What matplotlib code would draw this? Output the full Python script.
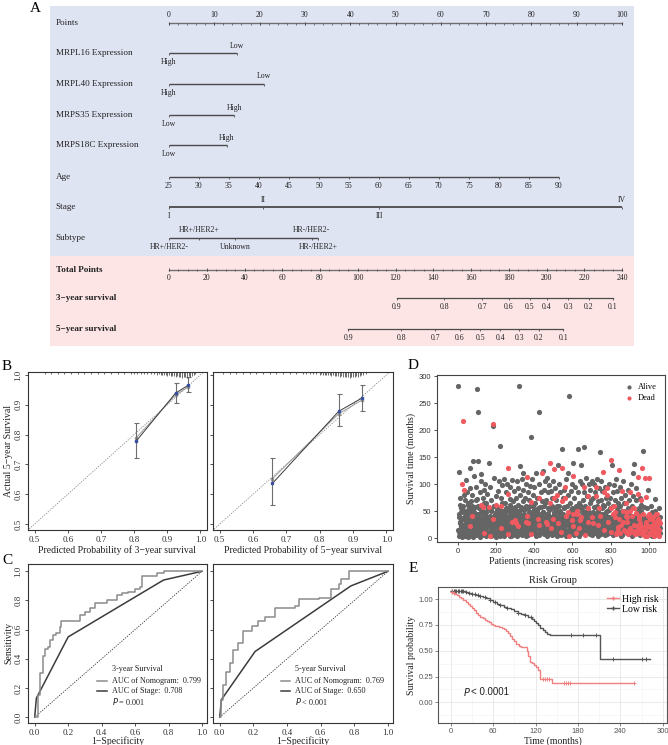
import matplotlib
matplotlib.use("Agg")
import matplotlib.pyplot as plt
import numpy as np
from matplotlib.transforms import blended_transform_factory as btf
from matplotlib.lines import Line2D

W, H = 668, 745
SERIF = ['Liberation Serif', 'DejaVu Serif']
SANS = ['Liberation Sans', 'DejaVu Sans']
plt.rcParams['font.family'] = SERIF

# ---------------- data: nomogram ----------------
points_labels = [0, 10, 20, 30, 40, 50, 60, 70, 80, 90, 100]
mrpl16_levels = ['High', 'Low'];   mrpl16_pts = [0, 15.0]
mrpl40_levels = ['High', 'Low'];   mrpl40_pts = [0, 21.0]
mrps35_levels = ['Low', 'High'];   mrps35_pts = [0, 14.4]
mrps18c_levels = ['Low', 'High'];  mrps18c_pts = [0, 12.7]
age_values = [25, 30, 35, 40, 45, 50, 55, 60, 65, 70, 75, 80, 85, 90]
age_pts = [0, 6.6, 13.2, 19.8, 26.5, 33.1, 39.7, 46.3, 52.9, 59.5, 66.2, 72.8, 79.4, 86.0]
stage_levels = ['I', 'II', 'III', 'IV'];  stage_pts = [0, 20.8, 46.4, 100]
subtype_levels = ['HR+/HER2-', 'HR+/HER2+', 'Unknown', 'HR-/HER2-', 'HR-/HER2+']
subtype_pts = [0, 6.7, 14.5, 31.5, 33.0]
total_labels = [0, 20, 40, 60, 80, 100, 120, 140, 160, 180, 200, 220, 240]
surv_probs = ['0.9', '0.8', '0.7', '0.6', '0.5', '0.4', '0.3', '0.2', '0.1']
surv3_total = [120.8, 145.8, 166, 180, 191, 200, 211.6, 222.5, 235]
surv5_total = [95, 123, 141, 154, 165, 175.4, 185.5, 196, 209]

# ---------------- data: calibration ----------------
cal3_pred = [0.807, 0.925, 0.964]
cal3_obs = [0.779, 0.939, 0.966]
cal3_lo = [0.723, 0.905, 0.943]
cal3_hi = [0.840, 0.972, 0.992]
cal3_corr = [0.790, 0.933, 0.960]
cal5_pred = [0.658, 0.857, 0.926]
cal5_obs = [0.636, 0.878, 0.922]
cal5_lo = [0.564, 0.830, 0.878]
cal5_hi = [0.722, 0.936, 0.966]
cal5_corr = [0.652, 0.870, 0.915]
rug3_x = [0.53, 0.55, 0.57, 0.59, 0.61, 0.63, 0.65, 0.67, 0.69, 0.71,
          0.73, 0.75, 0.77, 0.79, 0.80, 0.81, 0.82, 0.83, 0.84, 0.85,
          0.86, 0.87, 0.875, 0.88, 0.885, 0.89, 0.895, 0.90, 0.905, 0.91,
          0.915, 0.92, 0.925, 0.93, 0.935, 0.94, 0.945, 0.95, 0.955, 0.96,
          0.965, 0.97, 0.975, 0.98, 0.985]
rug3_n = [1, 1, 1, 1, 1, 1, 1, 1, 1, 1,
          1, 1, 1, 2, 1, 2, 1, 2, 2, 2,
          2, 3, 2, 3, 3, 4, 3, 5, 4, 5,
          6, 5, 7, 6, 8, 7, 9, 8, 7, 9,
          6, 7, 5, 4, 2]
rug5_x = [0.51, 0.53, 0.55, 0.57, 0.59, 0.61, 0.63, 0.65, 0.67, 0.69,
          0.71, 0.73, 0.75, 0.76, 0.77, 0.78, 0.79, 0.80, 0.805, 0.81,
          0.815, 0.82, 0.825, 0.83, 0.835, 0.84, 0.845, 0.85, 0.855, 0.86,
          0.865, 0.87, 0.875, 0.88, 0.885, 0.89, 0.895, 0.90, 0.905, 0.91,
          0.915, 0.92, 0.925, 0.93, 0.94]
rug5_n = [1, 1, 1, 1, 1, 1, 1, 1, 1, 1,
          1, 1, 2, 1, 2, 2, 2, 3, 2, 3,
          3, 4, 3, 4, 5, 4, 5, 6, 5, 7,
          6, 7, 8, 7, 8, 9, 8, 7, 8, 6,
          7, 5, 4, 3, 2]

# ---------------- data: ROC ----------------
roc3_nomo_fpr = [0, 0.02, 0.03, 0.05, 0.06, 0.08, 0.09, 0.11, 0.13, 0.15, 0.16, 0.20, 0.25, 0.27, 0.30,
                 0.33, 0.36, 0.40, 0.43, 0.47, 0.49, 0.52, 0.56, 0.60, 0.63, 0.64, 0.70, 0.73, 0.77, 1.0]
roc3_nomo_tpr = [0, 0.15, 0.30, 0.42, 0.47, 0.48, 0.53, 0.56, 0.58, 0.62, 0.66, 0.66, 0.66, 0.70, 0.72,
                 0.75, 0.78, 0.78, 0.80, 0.80, 0.84, 0.85, 0.86, 0.88, 0.89, 0.97, 0.97, 0.99, 1.0, 1.0]
roc3_stage_fpr = [0, 0.01, 0.20, 0.77, 1.0]
roc3_stage_tpr = [0, 0.13, 0.55, 0.94, 1.0]
roc5_nomo_fpr = [0, 0.01, 0.02, 0.036, 0.06, 0.08, 0.11, 0.14, 0.19, 0.23, 0.27, 0.33, 0.45, 0.47,
                 0.59, 0.66, 0.71, 0.72, 0.77, 1.0]
roc5_nomo_tpr = [0, 0.12, 0.22, 0.31, 0.37, 0.46, 0.51, 0.59, 0.625, 0.66, 0.69, 0.75, 0.76, 0.81,
                 0.82, 0.88, 0.91, 0.95, 1.0, 1.0]
roc5_stage_fpr = [0, 0.01, 0.21, 0.78, 1.0]
roc5_stage_tpr = [0, 0.12, 0.45, 0.90, 1.0]

# ---------------- data: risk score scatter ----------------
# odd-ranked patients
surv_time_odd = [
    282, 122, 45, 12, 30, 75, 8, 55, 20, 38,
    100, 25, 217, 60, 90, 15, 48, 5, 33, 70,
    108, 40, 18, 85, 27, 52, 3, 62, 35, 10,
    130, 93, 22, 45, 68, 14, 36, 80, 28, 50,
    143, 115, 40, 8, 58, 25, 95, 33, 18, 72,
    276, 233, 142, 60, 20, 45, 85, 30, 12, 105,
    118, 62, 38, 25, 57, 10, 75, 44, 90, 15,
    100, 35, 22, 65, 48, 8, 82, 28, 40, 55,
    140, 57, 30, 95, 18, 50, 70, 5, 38, 25,
    207, 35, 212, 60, 20, 112, 45, 8, 78, 30,
    62, 40, 25, 48, 88, 12, 55, 33, 105, 18,
    170, 60, 30, 75, 15, 50, 98, 22, 40, 8,
    110, 45, 28, 65, 12, 85, 38, 55, 20, 100,
    130, 82, 35, 50, 18, 72, 25, 95, 42, 5,
    30, 108, 55, 22, 68, 40, 12, 88, 28, 47,
    33, 28, 75, 105, 50, 18, 62, 38, 92, 10,
    281, 133, 45, 80, 25, 58, 15, 110, 35, 68,
    90, 120, 52, 30, 75, 8, 42, 100, 20, 60,
    113, 42, 28, 85, 55, 15, 70, 35, 97, 48,
    188, 67, 40, 110, 22, 60, 10, 80, 33, 52,
    95, 30, 65, 18, 120, 45, 8, 75, 38, 55,
    35, 75, 234, 100, 25, 58, 12, 85, 42, 68,
    120, 125, 48, 20, 90, 60, 30, 105, 15, 40,
    30, 70, 45, 112, 18, 55, 85, 25, 98, 38,
    140, 65, 18, 88, 40, 60, 10, 75, 30, 105,
    75, 128, 45, 20, 92, 55, 35, 70, 12, 50,
    80, 136, 25, 60, 40, 100, 15, 85, 48, 30,
    12, 130, 68, 166, 35, 75, 22, 55, 90, 42,
    95, 75, 42, 110, 28, 60, 8, 80, 38, 120,
    5, 263, 22, 65, 45, 88, 15, 100, 30, 55,
    22, 115, 140, 48, 75, 25, 95, 38, 10, 60,
    10, 50, 45, 165, 30, 85, 18, 65, 105, 40,
    33, 40, 135, 55, 20, 100, 70, 12, 45, 85,
    168, 95, 28, 60, 15, 112, 40, 78, 50, 25,
    78, 55, 100, 35, 18, 65, 90, 42, 8, 70,
    40, 105, 30, 75, 48, 15, 100, 58, 35, 85,
    95, 78, 45, 110, 25, 60, 12, 68, 38, 92,
    55, 160, 30, 70, 15, 105, 45, 88, 20, 62,
    122, 85, 35, 60, 18, 95, 42, 75, 10, 50,
    92, 80, 28, 65, 100, 40, 12, 55, 30, 75,
    145, 55, 135, 40, 18, 85, 60, 25, 98, 45,
    48, 40, 70, 30, 110, 15, 55, 88, 22, 65,
    20, 127, 35, 60, 8, 95, 42, 75, 28, 50,
    88, 50, 18, 105, 38, 65, 12, 80, 45, 25,
    12, 65, 48, 30, 90, 55, 20, 70, 40, 8,
    85, 50, 25, 100, 35, 60, 15, 78, 42, 120,
    55, 25, 137, 40, 10, 70, 30, 92, 48, 18,
    114, 82, 15, 35, 55, 8, 45, 75, 25, 62,
    70, 130, 20, 10, 162, 40, 28, 58, 12, 35,
    112, 77, 25, 30, 5, 55, 18, 42, 90, 15,
    112, 45, 35, 20, 10, 60, 28, 48, 8, 38,
    40, 25, 15, 5, 30, 50, 18, 72, 35, 12,
    45, 30, 20, 8, 35, 15, 25, 55, 40, 10,
]
status_odd = ("AAAAAAAAAA" "DADADAAAAA" "AAAAAAAAAA" "AADAAAAAAA" "AAAAAAAAAA"
              "AAAAAAAAAA" "ADAADAAAAA" "AAAAAAAAAA" "ADAAAAAAAA" "ADDAAAAAAA"
              "DAAAAAAAAA" "ADAAAAAAAA" "AAAAAAAAAA" "DDAAAAAAAA" "DAAAAAAAAA"
              "DDAAAAAAAA" "AAAAAAAAAA" "AAAAAAAAAA" "DDDAAAAAAA" "ADAAAAAAAA"
              "AAAAAAAAAA" "DDAAAAAAAA" "DAAAAAAAAA" "DAAAAAAAAA" "DDDAAAAAAA"
              "DDAAAAAAAA" "DAAAAAAAAA" "DDDAAAAAAA" "DDDAAAAAAA" "DAAAAAAAAA"
              "DDAAAAAAAA" "DDDAAAAAAA" "DDAAAAAAAA" "ADAAAAAAAA" "DDAAAAAAAA"
              "DAAAAAAAAA" "DDAAAAAAAA" "DAAAAAAAAA" "DDAAAAAAAA" "DDAAAAAAAA"
              "DDAAAAAAAA" "DDAAAAAAAA" "DDAAAAAAAA" "DDAAAAAAAA" "DDDDAAAAAA"
              "DDAAAAAAAA" "DDAAAAAAAA" "DDDDAAAAAA" "DDDDAAAAAA" "DDDDDAAAAA"
              "DDDDDAAAAA" "DDDDDAAAAA" "DDDDDDAAAA")
# even-ranked patients
surv_time_even = [
    15, 40, 5, 28, 62, 10, 33, 22, 48, 3,
    18, 52, 8, 35, 12, 80, 25, 42, 6, 30,
    20, 9, 45, 30, 15, 65, 38, 4, 25, 55,
    12, 35, 50, 7, 28, 18, 42, 60, 22, 3,
    30, 10, 48, 20, 38, 6, 70, 15, 26, 44,
    8, 32, 18, 55, 12, 40, 25, 3, 48, 20,
    35, 14, 28, 6, 50, 22, 40, 10, 65, 30,
    18, 45, 5, 32, 12, 58, 24, 38, 8, 28,
    22, 10, 42, 30, 4, 52, 16, 36, 26, 12,
    40, 18, 6, 28, 60, 14, 34, 22, 3, 48,
    10, 30, 52, 20, 8, 38, 15, 45, 26, 5,
    28, 12, 40, 18, 65, 6, 34, 24, 50, 14,
    5, 36, 20, 48, 10, 30, 55, 15, 42, 25,
    22, 8, 38, 28, 14, 62, 4, 32, 18, 45,
    12, 42, 25, 6, 35, 20, 50, 10, 30, 58,
    38, 15, 28, 45, 5, 22, 40, 12, 32, 18,
    8, 30, 52, 18, 25, 12, 42, 35, 6, 22,
    26, 45, 10, 35, 20, 55, 4, 30, 15, 40,
    14, 32, 22, 6, 48, 28, 12, 38, 60, 18,
    30, 8, 42, 20, 15, 35, 25, 52, 10, 45,
    20, 40, 12, 28, 5, 50, 32, 18, 38, 24,
    6, 25, 45, 15, 35, 10, 30, 58, 20, 42,
    32, 14, 22, 48, 8, 38, 18, 28, 65, 12,
    15, 36, 5, 26, 44, 20, 12, 32, 52, 25,
    40, 10, 30, 18, 55, 24, 6, 35, 14, 28,
    22, 48, 12, 34, 8, 40, 26, 18, 60, 4,
    10, 28, 42, 20, 35, 15, 50, 30, 6, 38,
    36, 18, 8, 45, 25, 12, 32, 58, 20, 28,
    14, 40, 24, 5, 38, 30, 48, 16, 26, 10,
    28, 12, 35, 20, 52, 8, 42, 22, 34, 16,
    18, 45, 6, 30, 14, 38, 25, 55, 10, 32,
    40, 20, 28, 12, 48, 5, 35, 18, 26, 62,
    8, 32, 15, 42, 22, 30, 12, 50, 38, 20,
    25, 12, 38, 6, 28, 45, 18, 34, 10, 55,
    14, 30, 22, 48, 8, 36, 26, 15, 42, 20,
    32, 6, 45, 18, 28, 12, 40, 22, 58, 10,
    20, 38, 10, 30, 15, 50, 25, 5, 35, 44,
    12, 28, 42, 18, 32, 8, 55, 24, 14, 36,
    30, 15, 25, 45, 6, 38, 20, 12, 48, 28,
    8, 40, 18, 30, 22, 52, 10, 35, 26, 15,
    25, 12, 36, 20, 44, 6, 30, 16, 60, 22,
    15, 32, 8, 42, 25, 12, 38, 28, 18, 50,
    35, 20, 45, 10, 28, 5, 40, 24, 32, 14,
    6, 30, 22, 38, 15, 50, 12, 26, 42, 18,
    28, 10, 40, 20, 32, 8, 45, 15, 25, 35,
    18, 36, 12, 28, 5, 42, 22, 55, 30, 10,
    25, 14, 38, 8, 30, 20, 46, 12, 35, 22,
    10, 30, 20, 42, 15, 28, 6, 38, 18, 50,
    22, 8, 35, 15, 28, 45, 12, 32, 5, 25,
    14, 38, 25, 6, 20, 32, 10, 42, 28, 18,
    30, 12, 22, 40, 8, 26, 15, 35, 5, 20,
    18, 28, 10, 35, 22, 6, 30, 14, 45, 25,
    12, 25, 40, 8, 20, 32, 15, 5, 28, 18,
]
status_even = ("AAAAAAAAAA" "AAAAAAAAAA" "AAAAAAAAAA" "AAAAAADAAA" "AAAAAAAAAA"
               "AAAAAAAAAA" "AAAAAAADAA" "AAAAAAAAAA" "AAAADAAAAA" "AAAAAAAAAA"
               "AAAAAAAAAA" "AAADAAAAAA" "AAAAAAAAAA" "ADAAAAAAAA" "AAAAAAAAAA"
               "AAAAADAAAA" "AAAAAAAAAA" "AAAAAAADAA" "AAAAAAAAAA" "ADAAAAAAAA"
               "AAAAAAAAAA" "ADAAAAAAAA" "AAAAAAAAAA" "AAADAAAAAA" "AAAAAAADAA"
               "AAAAAAAAAA" "ADAAAAAAAA" "AAAAAAAAAA" "AAAAAADAAA" "AAAAAAAADA"
               "ADAAAAAAAA" "AAAAAAADAA" "AAAAAAAAAA" "AAADAAAAAA" "ADAAAAAAAA"
               "AAAADAAAAA" "AAAAAADAAA" "AADAAAAAAA" "ADAAAAAAAA" "AAADAAAAAA"
               "ADAADAAADA" "AADAADAADA" "DAADAAADAA" "ADAADAAADA" "AADAADADAA"
               "DADAADADAA" "ADADAADAAD" "DAADADAADA" "ADADADAADA" "DADADAADAA"
               "ADDADAADAD" "DADADDAADA" "DDADADADDA")

# ---------------- data: Kaplan-Meier ----------------
hr_t = [0, 3, 6, 9, 12, 15, 18, 21, 24, 27, 30, 33, 36, 39, 42, 45, 48, 51, 54, 57, 60, 63, 66, 69,
        72, 75, 78, 81, 84, 87, 90, 93, 96, 99, 102, 105, 108, 110, 112, 115, 118, 121, 124, 127, 143, 260]
hr_s = [1.07, 1.06, 1.05, 1.04, 1.02, 1.01, 0.99, 0.97, 0.95, 0.93, 0.91, 0.89, 0.87, 0.85, 0.83,
        0.815, 0.80, 0.79, 0.775, 0.76, 0.745, 0.74, 0.735, 0.73, 0.72, 0.71, 0.69, 0.67, 0.64, 0.61,
        0.59, 0.565, 0.55, 0.54, 0.54, 0.54, 0.50, 0.45, 0.39, 0.38, 0.36, 0.34, 0.31, 0.23, 0.185, 0.185]
lr_t = [0, 10, 20, 25, 30, 35, 40, 45, 50, 55, 60, 65, 70, 75, 80, 85, 90, 95, 100, 105, 110, 115,
        118, 121, 124, 127, 130, 133, 136, 140, 208, 211, 282]
lr_s = [1.08, 1.075, 1.07, 1.06, 1.05, 1.04, 1.03, 1.02, 1.01, 0.99, 0.97, 0.955, 0.94, 0.925, 0.91,
        0.90, 0.885, 0.87, 0.86, 0.845, 0.83, 0.81, 0.79, 0.77, 0.75, 0.72, 0.70, 0.68, 0.66, 0.65,
        0.65, 0.42, 0.42]
hr_cens = [2, 5, 130, 133, 136, 139, 160, 163, 166, 169, 260]
lr_cens = [2, 4, 6, 8, 10, 12, 14, 16, 18, 22, 26, 30, 34, 38, 42, 48, 55, 62, 70, 80, 95, 105, 113,
           170, 187, 205, 230, 270, 276]

# ======================================================================
fig = plt.figure(figsize=(W / 100, H / 100), dpi=100)


def axpx(x0, y0, x1, y1):
    return fig.add_axes([x0 / W, 1 - y1 / H, (x1 - x0) / W, (y1 - y0) / H])


def letter(x, y, s):
    fig.text(x / W, 1 - y / H, s, fontsize=11, va='center', ha='left', family=SERIF)


# ---------------- Panel A: nomogram ----------------
P0, P100 = 169, 622
ax = axpx(50, 6, 634, 346)
ax.set_xlim(-(P0 - 50) * 100 / (P100 - P0), 100 + (634 - P100) * 100 / (P100 - P0))
ax.set_ylim(346, 6)
ax.axis('off')
ax.axhspan(6, 256, color='#dfe4f3', lw=0)
ax.axhspan(256, 346, color='#fde5e5', lw=0)
LC = '#4a4a4a'
TXT = '#222222'
LAB_X = -25.0
FS_T = 5.6


def rowlabel(y, s, bold=False):
    ax.text(LAB_X, y, s, fontsize=6.6, va='center', ha='left', color=TXT,
            fontweight='bold' if bold else 'normal')


def nrow(y, pts, labels, where, lw=1.0):
    ax.plot([min(pts), max(pts)], [y, y], color=LC, lw=lw, solid_capstyle='butt')
    ax.vlines(pts, y, y + 2.2, color=LC, lw=0.6)
    for p, l, w in zip(pts, labels, where):
        if w == 'a':
            ax.text(p, y - 7.5, l, fontsize=FS_T, ha='center', va='center', color=TXT)
        else:
            ax.text(p, y + 9, l, fontsize=FS_T, ha='center', va='center', color=TXT)


yP = 23
rowlabel(yP, 'Points')
ax.plot([0, 100], [yP, yP], color='#707070', lw=1.0)
ax.vlines(np.arange(0, 101, 2), yP, yP + 1.6, color=LC, lw=0.5)
ax.vlines(points_labels, yP - 1.0, yP + 2.4, color=LC, lw=0.6)
for v in points_labels:
    ax.text(v, yP - 8, str(v), fontsize=FS_T, ha='center', va='center', color=TXT)

rows = [(53, 'MRPL16 Expression', mrpl16_pts, mrpl16_levels, 'ba'),
        (84, 'MRPL40 Expression', mrpl40_pts, mrpl40_levels, 'ba'),
        (115, 'MRPS35 Expression', mrps35_pts, mrps35_levels, 'ba'),
        (145, 'MRPS18C Expression', mrps18c_pts, mrps18c_levels, 'ba')]
for y, name, pts, labs, wh in rows:
    rowlabel(y, name)
    nrow(y, pts, labs, wh)

rowlabel(177, 'Age')
nrow(177, age_pts, [str(a) for a in age_values], 'b' * len(age_values))
rowlabel(207, 'Stage')
nrow(207, stage_pts, stage_levels, 'baba', lw=1.3)
rowlabel(238, 'Subtype')
nrow(238, subtype_pts, subtype_levels, 'babab')

yT = 270
rowlabel(yT, 'Total Points', bold=True)
tp = lambda v: np.asarray(v, dtype=float) * 100 / 240
ax.plot([0, 100], [yT, yT], color='#707070', lw=1.0)
ax.vlines(tp(np.arange(0, 241, 5)), yT - 1.5, yT + 0.5, color=LC, lw=0.5)
ax.vlines(tp(total_labels), yT - 1.8, yT + 1.0, color=LC, lw=0.6)
for v in total_labels:
    ax.text(tp(v), yT + 8, str(v), fontsize=FS_T, ha='center', va='center', color=TXT)

for y, name, tot in [(298, '3\u2212year survival', surv3_total),
                     (329, '5\u2212year survival', surv5_total)]:
    rowlabel(y, name, bold=True)
    xs = tp(tot)
    ax.plot([xs.min(), xs.max()], [y, y], color=LC, lw=0.9)
    ax.vlines(xs, y, y + 2.2, color=LC, lw=0.6)
    for xv, l in zip(xs, surv_probs):
        ax.text(xv, y + 9, l, fontsize=FS_T, ha='center', va='center', color=TXT)

letter(30, 9, 'A')


def style_r(a, rot_y=True):
    for s in a.spines.values():
        s.set_linewidth(0.8)
        s.set_color('#333333')
    a.tick_params(direction='out', length=2.5, width=0.6, labelsize=6.5, pad=1.5, colors='#333333')
    if rot_y:
        a.tick_params(axis='y', labelrotation=90)
        for t in a.get_yticklabels():
            t.set_va('center')


# ---------------- Panel B: calibration ----------------
ticks_b = [0.5, 0.6, 0.7, 0.8, 0.9, 1.0]
for i, (x0, x1) in enumerate([(28, 207), (213, 393)]):
    a = axpx(x0, 372, x1, 530)
    if i == 0:
        pred, obs, lo, hi, corr, rx, rn = cal3_pred, cal3_obs, cal3_lo, cal3_hi, cal3_corr, rug3_x, rug3_n
        xl = 'Predicted Probability of 3\u2212year survival'
    else:
        pred, obs, lo, hi, corr, rx, rn = cal5_pred, cal5_obs, cal5_lo, cal5_hi, cal5_corr, rug5_x, rug5_n
        xl = 'Predicted Probability of 5\u2212year survival'
    a.plot([0.45, 1.05], [0.45, 1.05], ls=(0, (1.5, 1.5)), color='#888888', lw=0.6)
    a.plot(pred, corr, color='#9a9a9a', lw=0.7)
    a.plot(pred, corr, 's', ms=1.8, color='#9a9a9a')
    a.errorbar(pred, obs, yerr=[np.subtract(obs, lo), np.subtract(hi, obs)], fmt='none',
               ecolor='#6e6e6e', elinewidth=0.8, capsize=1.8, capthick=0.8)
    a.plot(pred, obs, color='#3a3a3a', lw=0.7)
    a.plot(pred, obs, 's', ms=2.0, color='#3b4fa0')
    tr = btf(a.transData, a.transAxes)
    a.vlines(rx, 1 - (0.006 + np.asarray(rn) * 0.0035), 1, color='#555555', lw=0.6, transform=tr)
    a.set_xlim(0.48, 1.02)
    a.set_ylim(0.48, 1.01)
    a.set_xticks(ticks_b)
    a.set_yticks(ticks_b)
    a.set_xlabel(xl, fontsize=7, labelpad=1, color='#222222')
    style_r(a)
    if i == 0:
        a.set_ylabel('Actual 5\u2212year Survival', fontsize=7, labelpad=1, color='#222222')
    else:
        a.set_yticklabels([])
letter(2, 366, 'B')

# ---------------- Panel C: ROC ----------------
ticks_c = [0.0, 0.2, 0.4, 0.6, 0.8, 1.0]
roc_sets = [(roc3_nomo_fpr, roc3_nomo_tpr, roc3_stage_fpr, roc3_stage_tpr,
             '3-year Survival', 'AUC of Nomogram:  0.799', 'AUC of Stage:  0.708', ' = 0.001'),
            (roc5_nomo_fpr, roc5_nomo_tpr, roc5_stage_fpr, roc5_stage_tpr,
             '5-year Survival', 'AUC of Nomogram:  0.769', 'AUC of Stage:  0.650', ' < 0.001')]
for i, (x0, x1) in enumerate([(28, 207), (213, 393)]):
    a = axpx(x0, 564, x1, 723)
    nf, nt, sf, st, t1, t2, t3, pv = roc_sets[i]
    a.plot([0, 1], [0, 1], ls=(0, (1.5, 1.5)), color='#333333', lw=0.6)
    a.plot(sf, st, color='#3c3c3c', lw=1.1)
    a.step(nf, nt, where='post', color='#8c8c8c', lw=1.1)
    a.set_xlim(-0.04, 1.03)
    a.set_ylim(-0.04, 1.05)
    a.set_xticks(ticks_c)
    a.set_yticks(ticks_c)
    a.set_xlabel('1\u2212Specificity', fontsize=7, labelpad=0, color='#222222')
    style_r(a)
    if i == 0:
        a.set_ylabel('Sensitivity', fontsize=7, labelpad=1, color='#222222')
    else:
        a.set_yticklabels([])
    tx = 0.46 if i == 0 else 0.45
    fs = 5.9
    a.text(tx, 0.33, t1, fontsize=fs, va='center', color='#222222')
    a.plot([tx - 0.085, tx - 0.03], [0.25, 0.25], color='#8c8c8c', lw=1.1)
    a.text(tx, 0.25, t2, fontsize=fs, va='center', color='#222222')
    a.plot([tx - 0.085, tx - 0.03], [0.18, 0.18], color='#3c3c3c', lw=1.1)
    a.text(tx, 0.18, t3, fontsize=fs, va='center', color='#222222')
    a.text(tx, 0.105, r'$\it{P}$' + pv, fontsize=fs, va='center', color='#222222')
letter(2, 560, 'C')

# ---------------- Panel D: risk score scatter ----------------
a = axpx(437, 375, 665, 542)
t_odd = np.asarray(surv_time_odd)
t_even = np.asarray(surv_time_even)
times = np.concatenate([t_odd, t_even])
ranks = np.concatenate([np.arange(len(t_odd)) * 2 + 1, np.arange(len(t_even)) * 2 + 2])
status = np.array(list(status_odd) + list(status_even))
alive = status == 'A'
a.scatter(ranks[alive], times[alive], s=14, color='#656565', lw=0, label='Alive', zorder=2)
a.scatter(ranks[~alive], times[~alive], s=14, color='#ee5a5f', lw=0, label='Dead', zorder=3)
a.set_xlim(-110, 1085)
a.set_ylim(-7, 302)
a.set_xticks([0, 200, 400, 600, 800, 1000])
a.set_yticks([0, 50, 100, 150, 200, 250, 300])
for s in a.spines.values():
    s.set_linewidth(0.8)
    s.set_color('#444444')
a.tick_params(direction='out', length=2.5, width=0.6, labelsize=5.5, pad=1.5, colors='#333333')
for t in a.get_xticklabels() + a.get_yticklabels():
    t.set_family(SANS)
a.set_xlabel('Patients (increasing risk scores)', fontsize=7, labelpad=1, color='#222222')
a.set_ylabel('Survival time (months)', fontsize=7, labelpad=2, color='#222222')
a.legend(loc='upper right', frameon=False, fontsize=6, handletextpad=0.1, borderaxespad=0.6,
         labelspacing=0.3, markerscale=0.8)
letter(408, 365, 'D')

# ---------------- Panel E: Kaplan-Meier ----------------
a = axpx(438, 587, 667, 723)
a.set_xlim(-18, 306)
a.set_ylim(-0.2, 1.117)
a.set_xticks([0, 60, 120, 180, 240, 300])
a.set_yticks([0.0, 0.25, 0.5, 0.75, 1.0])
a.set_yticklabels(['0.00', '0.25', '0.50', '0.75', '1.00'])
a.set_xticks([30, 90, 150, 210, 270], minor=True)
a.set_yticks([-0.125, 0.125, 0.375, 0.625, 0.875], minor=True)
a.grid(True, which='major', color='#e6e6e6', lw=0.6)
a.grid(True, which='minor', color='#f2f2f2', lw=0.4)
a.set_axisbelow(True)
for s in a.spines.values():
    s.set_linewidth(0.8)
    s.set_color('#555555')
a.tick_params(which='both', direction='out', length=2, width=0.5, labelsize=5.5, pad=1.5,
              colors='#555555')
a.tick_params(which='minor', length=0)
for t in a.get_xticklabels() + a.get_yticklabels():
    t.set_family(SANS)
HRC, LRC = '#f07f7f', '#555555'
a.step(lr_t, lr_s, where='post', color=LRC, lw=1.0)
a.step(hr_t, hr_s, where='post', color=HRC, lw=1.0)


def surv_at(tl, sl, ts):
    idx = np.searchsorted(tl, ts, side='right') - 1
    return np.asarray(sl)[idx]


a.plot(lr_cens, surv_at(lr_t, lr_s, lr_cens), '+', color=LRC, ms=3.5, mew=0.7)
a.plot(hr_cens, surv_at(hr_t, hr_s, hr_cens), '+', color=HRC, ms=3.5, mew=0.7)
a.set_title('Risk Group', fontsize=7.5, pad=3, color='#222222')
a.set_xlabel('Time (months)', fontsize=7, labelpad=1, color='#222222')
a.set_ylabel('Survival probability', fontsize=7, labelpad=2, color='#222222')
a.text(18, 0.10, r'$\it{P}$', fontsize=7, va='center', color='#222222')
a.text(28, 0.10, '< 0.0001', fontsize=7, va='center', color='#222222', family=SANS)
hh = [Line2D([], [], color=HRC, marker='+', ms=3.5, lw=1.0),
      Line2D([], [], color=LRC, marker='+', ms=3.5, lw=1.0)]
a.legend(hh, ['High risk', 'Low risk'], loc='upper right', frameon=False, fontsize=7,
         handlelength=1.2, handletextpad=0.4, labelspacing=0.1, borderaxespad=0.4)
letter(409, 568, 'E')

fig.savefig('out.png', dpi=100)
